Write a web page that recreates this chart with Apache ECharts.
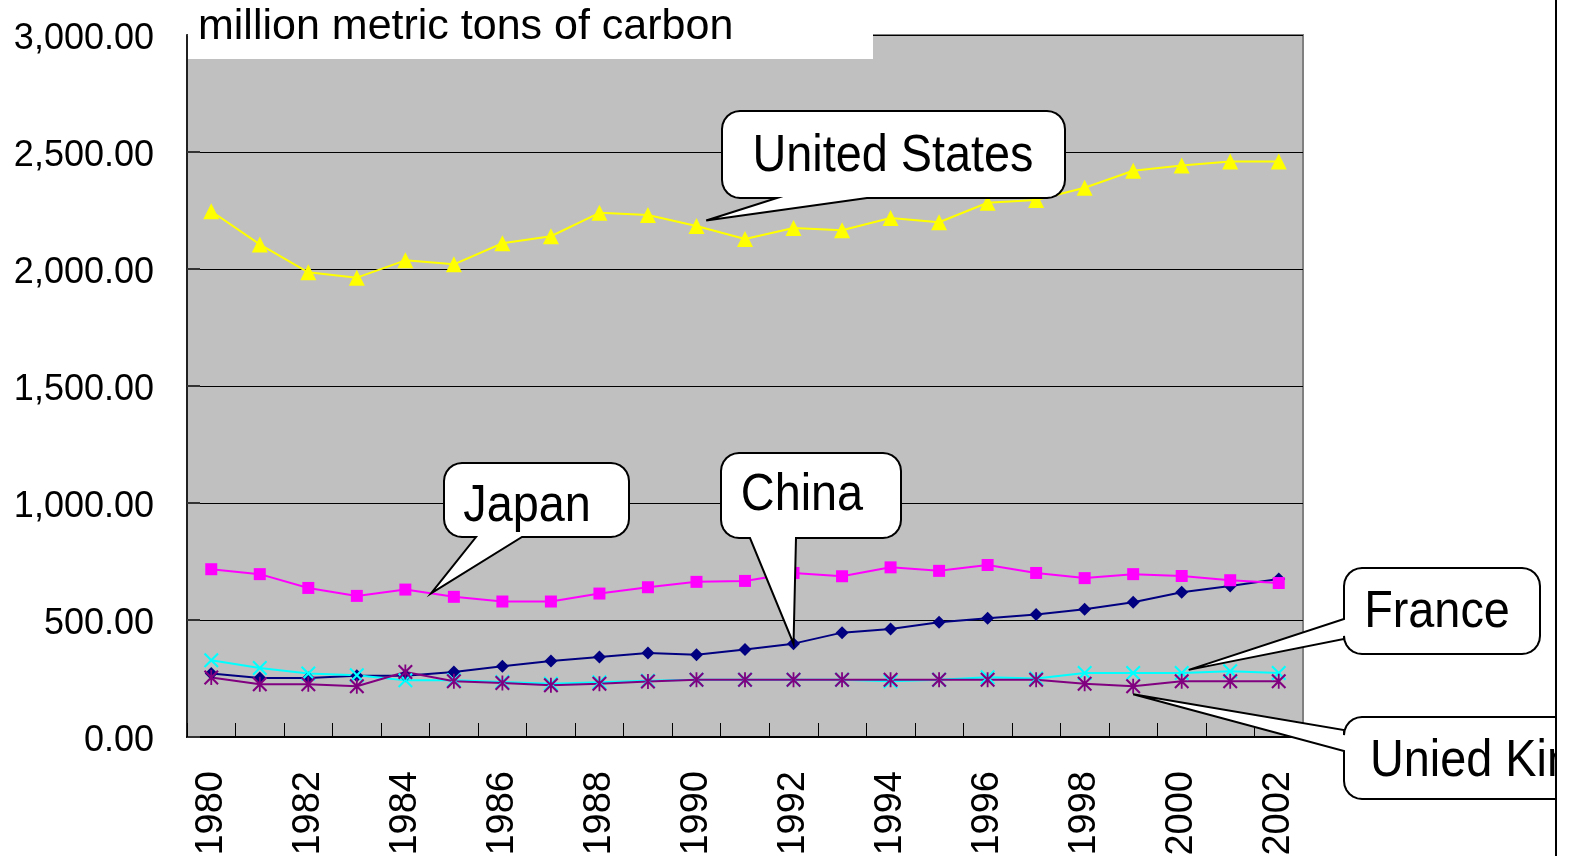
<!DOCTYPE html>
<html>
<head>
<meta charset="utf-8">
<script src="https://cdn.jsdelivr.net/npm/echarts@6/dist/echarts.min.js"></script>
<style>
  html, body { margin: 0; padding: 0; background: #ffffff; }
  #chart { width: 1581px; height: 856px; }
</style>
</head>
<body>
<div id="chart"></div>
<script>
// Carbon emissions, million metric tons of carbon, 1980-2002
const years = ['1980','1981','1982','1983','1984','1985','1986','1987','1988','1989','1990','1991',
               '1992','1993','1994','1995','1996','1997','1998','1999','2000','2001','2002'];
const unitedStates = [2247,2105,1986,1963,2037,2020,2110,2140,2240,2231,2184,2128,2175,2166,2218,2200,2283,2295,2347,2420,2442,2459,2459];
const japan        = [717,696,637,603,630,599,579,579,613,640,663,667,701,687,725,710,735,701,679,696,688,670,658];
const china        = [271,252,252,262,262,278,302,325,342,359,351,374,399,446,462,490,507,524,546,576,619,645,675];
const france       = [328,295,271,264,242,242,235,228,234,240,245,245,245,245,238,245,255,250,274,274,274,281,274];
const unitedKingdom= [254,225,225,217,278,238,231,221,228,237,245,245,245,245,245,245,245,245,228,217,238,238,238];

const yTicks = [0, 500, 1000, 1500, 2000, 2500, 3000];
const unitTitle = 'million metric tons of carbon';

const FONT = '"Liberation Sans", Arial, Helvetica, sans-serif';

// x-shaped and asterisk markers as filled paths
const crossSymbol = 'path://M0,1 L1,0 L5,4 L9,0 L10,1 L6,5 L10,9 L9,10 L5,6 L1,10 L0,9 L4,5 Z';
const starSymbol  = 'path://M0,1 L1,0 L5,4 L9,0 L10,1 L6,5 L10,9 L9,10 L5,6 L1,10 L0,9 L4,5 Z M4.4,0 L5.6,0 L5.6,10 L4.4,10 Z';

function fmt(v) {
  const s = Math.round(v).toString().replace(/\B(?=(\d{3})+(?!\d))/g, ',');
  return s + '.00';
}

function lineSeries(name, data, color, symbol, size) {
  return {
    name: name, type: 'line', data: data,
    symbol: symbol, symbolSize: size, showSymbol: true,
    lineStyle: { color: color, width: 2 },
    itemStyle: { color: color, borderWidth: 0 },
    emphasis: { disabled: true },
    animation: false
  };
}

const chart = echarts.init(document.getElementById('chart'), null, { renderer: 'canvas' });

chart.setOption({
  backgroundColor: '#ffffff',
  animation: false,
  textStyle: { fontFamily: FONT },
  grid: {
    left: 187, right: 278, top: 35, bottom: 119,
    show: true, backgroundColor: '#c0c0c0', borderColor: '#808080', borderWidth: 2,
    outerBoundsMode: 'none'
  },
  xAxis: {
    type: 'category', data: years, boundaryGap: true,
    axisLine: { show: true, lineStyle: { color: '#000', width: 2 } },
    axisTick: { show: true, inside: true, length: 14, interval: 0, lineStyle: { color: '#000', width: 1 } },
    axisLabel: { interval: 1, rotate: 90, margin: 34, fontSize: 38, color: '#000', fontFamily: FONT },
    splitLine: { show: false }
  },
  yAxis: {
    type: 'value', min: yTicks[0], max: yTicks[yTicks.length - 1], interval: 500,
    axisLine: { show: true, lineStyle: { color: '#000', width: 1.5 } },
    axisTick: { show: true, inside: true, length: 13, lineStyle: { color: '#333', width: 2 } },
    axisLabel: { margin: 33, fontSize: 36, color: '#000', fontFamily: FONT, formatter: fmt,
                 verticalAlign: 'top', lineHeight: 8 },
    splitLine: { show: true, lineStyle: { color: '#000', width: 1 } }
  },
  series: [
    lineSeries('China', china, '#000080', 'diamond', 13),
    lineSeries('Japan', japan, '#ff00ff', 'rect', 12),
    lineSeries('United States', unitedStates, '#ffff00', 'triangle', 16),
    lineSeries('France', france, '#00ffff', crossSymbol, 15),
    lineSeries('Unied Kingdom', unitedKingdom, '#800080', starSymbol, 15)
  ]
});

// quarter-circle corner points, from angle a0 to a1 around (cx, cy)
function arcPts(cx, cy, rad, a0, a1) {
  const out = [];
  const n = 6;
  for (let k = 0; k <= n; k++) {
    const a = a0 + (a1 - a0) * k / n;
    out.push([cx + rad * Math.cos(a), cy + rad * Math.sin(a)]);
  }
  return out;
}

// callout outline: rounded box with a wedge pointing at a spot on a line
function calloutPoints(l, t, r, b, rad, side, a1, a2, tip) {
  const H = Math.PI / 2;
  let pts = [];
  pts = pts.concat(arcPts(r - rad, t + rad, rad, -H, 0));          // top-right
  pts = pts.concat(arcPts(r - rad, b - rad, rad, 0, H));           // bottom-right
  if (side === 'bottom') { pts.push([a2, b], tip, [a1, b]); }
  pts = pts.concat(arcPts(l + rad, b - rad, rad, H, 2 * H));       // bottom-left
  if (side === 'left') { pts.push([l, a2], tip, [l, a1]); }
  pts = pts.concat(arcPts(l + rad, t + rad, rad, 2 * H, 3 * H));   // top-left
  return pts;
}

function px(i, arr) { return chart.convertToPixel({ gridIndex: 0 }, [i, arr[i]]); }
function along(i, arr, f) {
  const a = px(i, arr), b = px(i + 1, arr);
  return [a[0] + (b[0] - a[0]) * f, a[1] + (b[1] - a[1]) * f];
}

function callout(box, side, a1, a2, tip, text, textPos, align) {
  return [{
    type: 'polygon', z: 50,
    shape: { points: calloutPoints(box[0], box[1], box[2], box[3], 18, side, a1, a2, tip) },
    style: { fill: '#ffffff', stroke: '#000000', lineWidth: 2 }
  }, {
    type: 'text', z: 51, x: textPos[0], y: textPos[1], scaleX: 0.9, scaleY: 1,
    style: {
      text: text, fill: '#000', font: '52px ' + FONT,
      textAlign: align || 'center', textVerticalAlign: 'middle'
    }
  }];
}

const usTip = along(10, unitedStates, 0.2); usTip[1] -= 8;
const jpTip = along(4, japan, 0.53);
const cnTip = px(12, china);
const frTip = px(20, france); frTip[0] += 7; frTip[1] -= 3;
const ukTip = px(19, unitedKingdom); ukTip[1] += 8;

const graphics = [
  // unit caption box at the top of the plot
  { type: 'rect', z: 40, shape: { x: 188, y: 0, width: 685, height: 59 }, style: { fill: '#ffffff' } },
  { type: 'text', z: 41, x: 198, y: 27,
    style: { text: unitTitle, fill: '#000', font: '43px ' + FONT, textAlign: 'left', textVerticalAlign: 'middle' } }
]
  .concat(callout([722, 111, 1065, 198], 'bottom', 777, 867, usTip, 'United States', [893, 157]))
  .concat(callout([444, 463, 629, 537], 'bottom', 476, 522, jpTip, 'Japan', [527, 507]))
  .concat(callout([721, 453, 901, 538], 'bottom', 750, 796, cnTip, 'China', [802, 496]))
  .concat(callout([1344, 568, 1540, 654], 'left', 619, 639, frTip, 'France', [1437, 613]))
  .concat(callout([1344, 717, 1640, 799], 'left', 730, 751, ukTip, 'Unied Kingdom', [1370, 762], 'left'))
  .concat([
    { type: 'rect', z: 60, shape: { x: 1557, y: 0, width: 30, height: 856 }, style: { fill: '#ffffff' } },
    { type: 'line', z: 61, shape: { x1: 1556, y1: 0, x2: 1556, y2: 856 }, style: { stroke: '#000', lineWidth: 2 } }
  ]);

chart.setOption({ graphic: graphics });
</script>
</body>
</html>
